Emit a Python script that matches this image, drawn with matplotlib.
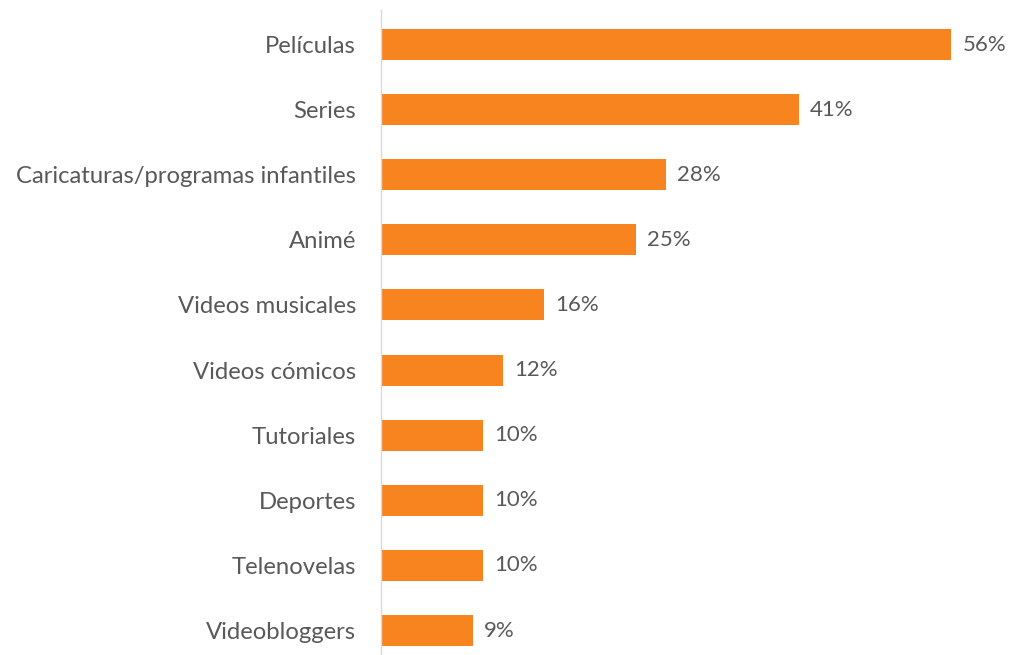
import numpy as np
from matplotlib import pyplot as plt

categories = ['Películas', 'Series', 'Caricaturas/programas infantiles', 'Animé',
              'Videos musicales', 'Videos cómicos', 'Tutoriales', 'Deportes',
              'Telenovelas', 'Videobloggers']
values = [56, 41, 28, 25, 16, 12, 10, 10, 10, 9]

bar_color = '#F7841F'
text_color = '#595959'

plt.rcParams['font.family'] = ['Lato', 'DejaVu Sans']

fig = plt.figure(figsize=(10.11, 6.55), dpi=100)
ax = fig.add_axes([381/1011, 0, 611/1011, 645/655])

y = np.arange(len(categories))
ax.barh(y, values, height=0.476, color=bar_color)
for yi, v in zip(y, values):
    ax.annotate(f'{v}%', (v, yi), xytext=(8, 0), textcoords='offset points',
                va='center', ha='left', fontsize=16, color=text_color)

ax.set_xlim(0, 60)
ax.set_ylim(9.376, -0.53)
ax.set_yticks(y)
ax.set_yticklabels(categories, fontsize=17.2, color=text_color)
ax.tick_params(axis='y', length=0, pad=18)
ax.set_xticks([])
for s in ['top', 'right', 'bottom']:
    ax.spines[s].set_visible(False)
ax.spines['left'].set_color('#D9D9D9')
ax.spines['left'].set_linewidth(1)

fig.savefig('out.png', dpi=100)
